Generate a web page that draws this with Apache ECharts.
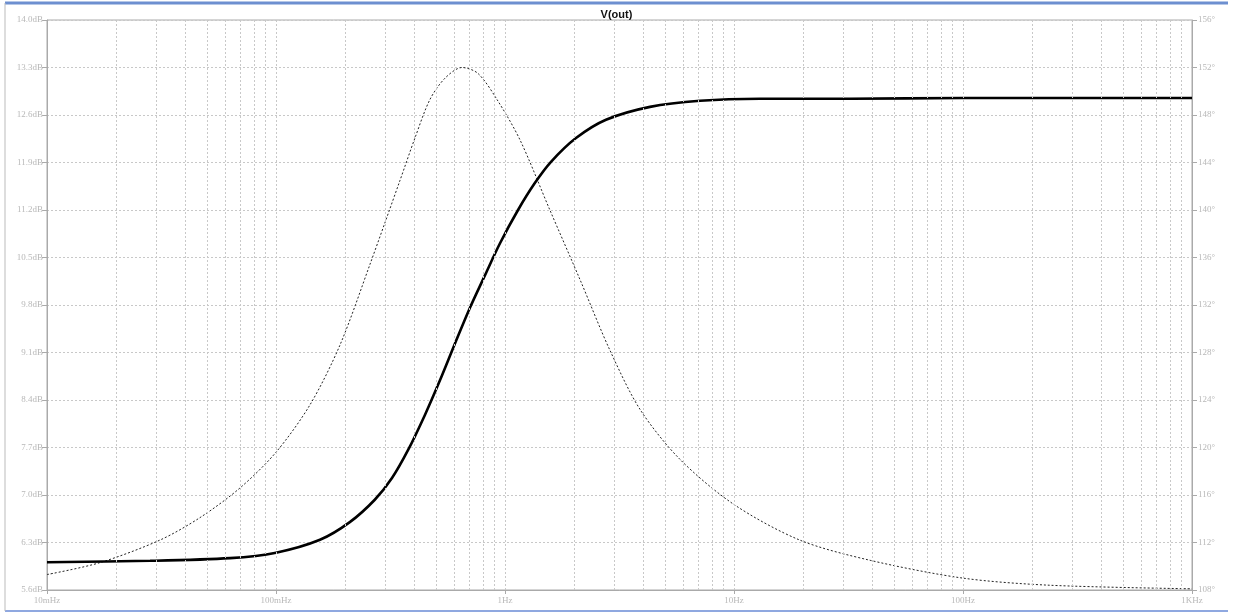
<!DOCTYPE html>
<html><head><meta charset="utf-8">
<script src="https://cdn.jsdelivr.net/npm/echarts@6/dist/echarts.min.js"></script>
<style>html,body{margin:0;padding:0;background:#fff}#c{width:1233px;height:613px}</style>
</head><body><div id="c"></div>
<script>
// Frequency (Hz) and magnitude (dB) of V(out)
const magFreq = [0.01,0.0282,0.063,0.1,0.1556,0.210,0.270,0.321,0.377,0.447,0.520,0.606,0.703,0.818,0.951,1.140,1.352,1.588,2.042,2.761,4.297,7.105,13.0,32.1,100,1000];
const magDb   = [6.01,6.03,6.07,6.15,6.34,6.60,6.93,7.25,7.66,8.18,8.69,9.24,9.76,10.24,10.71,11.20,11.60,11.91,12.26,12.53,12.72,12.81,12.84,12.84,12.85,12.85];
// Frequency (Hz) and phase (degrees) of V(out)
const phFreq = [0.01,0.0170,0.0311,0.0466,0.0697,0.1,0.1408,0.190,0.257,0.348,0.405,0.470,0.547,0.649,0.762,0.923,1.163,1.57,2.13,2.87,3.89,5.81,10,19.4,39.3,100,240,1000];
const phDeg  = [109.3,110.3,112.2,114.1,116.6,119.6,123.6,128.6,135.4,142.5,146.1,149.3,151.1,152.0,151.5,149.3,145.9,140.0,134.1,128.2,123.2,119.0,115.2,112.2,110.5,109.0,108.4,108.1];
// Axis tick labels
const xTickValues = [0.01,0.1,1,10,100,1000];
const xTickLabels = ['10mHz','100mHz','1Hz','10Hz','100Hz','1KHz'];
const minorMultipliers = [2,3,4,5,6,7,8,9];

const labelColor = '#b8b8b8';
const gridLineColor = '#c8c8c8';
const font = 'Liberation Serif';

const minorLines = [];
for (let d = 0; d < xTickValues.length - 1; d++) {
  for (const m of minorMultipliers) minorLines.push({xAxis: xTickValues[d] * m});
}
for (let d = 1; d < xTickValues.length - 1; d++) minorLines.push({xAxis: xTickValues[d]});

const chart = echarts.init(document.getElementById('c'), null, {renderer: 'canvas'});
chart.setOption({
  animation: false,
  backgroundColor: '#fff',
  title: {text: 'V(out)', left: 'center', top: 4,
    textStyle: {fontFamily: 'Liberation Sans', fontSize: 11, fontWeight: 'bold', color: '#111'}},
  grid: {left: 47, right: 41, top: 20, bottom: 23, show: true, borderColor: '#aaa', borderWidth: 1},
  graphic: [
    {type: 'line', shape: {x1: 5, y1: 3, x2: 1228, y2: 3}, style: {stroke: '#6d8fd0', lineWidth: 3}},
    {type: 'line', shape: {x1: 5, y1: 611, x2: 1228, y2: 611}, style: {stroke: '#8fa8e0', lineWidth: 2}},
    {type: 'line', shape: {x1: 5, y1: 3, x2: 5, y2: 611}, style: {stroke: '#bbb', lineWidth: 1}}
  ],
  xAxis: {
    type: 'log', logBase: 10, min: 0.01, max: 1000,
    axisLine: {show: true, lineStyle: {color: '#aaa'}},
    axisTick: {show: true, length: 4, lineStyle: {color: '#aaa'}},
    splitLine: {show: true, lineStyle: {color: gridLineColor, type: [2, 2]}},
    axisLabel: {color: labelColor, fontSize: 9, fontFamily: font, margin: 6,
      formatter: v => { const i = xTickValues.findIndex(t => Math.abs(Math.log10(t) - Math.log10(v)) < 1e-6); return i >= 0 ? xTickLabels[i] : ''; }}
  },
  yAxis: [
    {type: 'value', min: 5.6, max: 14.0, interval: 0.7, position: 'left',
      axisLine: {show: true, lineStyle: {color: '#aaa'}},
      axisTick: {show: true, length: 5, lineStyle: {color: '#aaa'}},
      splitLine: {show: true, lineStyle: {color: gridLineColor, type: [2, 2]}},
      axisLabel: {color: labelColor, fontSize: 9, fontFamily: font, margin: 4,
        formatter: v => v.toFixed(1) + 'dB'}},
    {type: 'value', min: 108, max: 156, interval: 4, position: 'right',
      axisLine: {show: true, lineStyle: {color: '#aaa'}},
      axisTick: {show: true, length: 5, lineStyle: {color: '#aaa'}},
      splitLine: {show: false},
      axisLabel: {color: labelColor, fontSize: 9, fontFamily: font, margin: 6,
        formatter: v => v + '°'}}
  ],
  series: [
    {type: 'line', name: 'phase', yAxisIndex: 1, smooth: 0.3, showSymbol: false,
      data: phFreq.map((f, i) => [f, phDeg[i]]),
      lineStyle: {color: '#222', width: 1, type: [2, 2]},
      markLine: {silent: true, symbol: ['none', 'none'], label: {show: false},
        lineStyle: {color: gridLineColor, type: [2, 2], width: 1}, data: minorLines}},
    {type: 'line', name: 'mag', yAxisIndex: 0, smooth: 0.3, showSymbol: false,
      data: magFreq.map((f, i) => [f, magDb[i]]),
      lineStyle: {color: '#000', width: 2.6}}
  ]
});
</script></body></html>
